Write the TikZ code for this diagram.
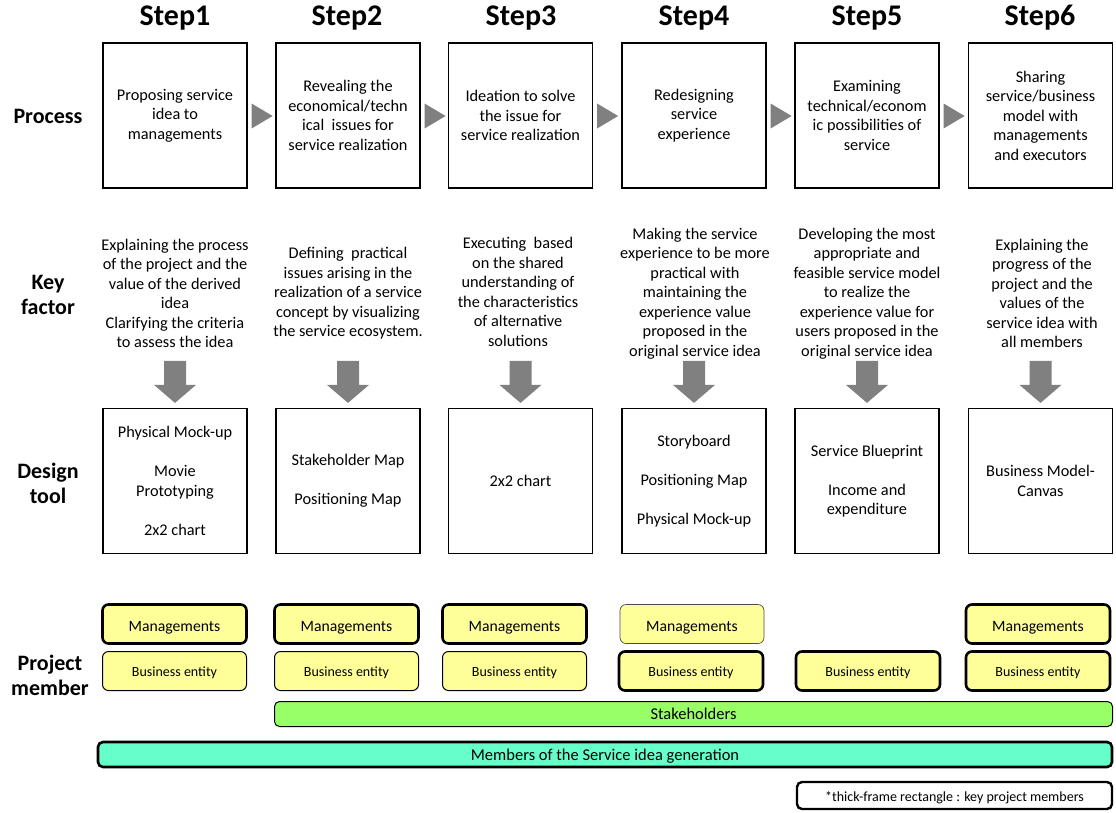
\documentclass[tikz,border=0pt]{standalone}
\usepackage{fontspec}
\setmainfont{Carlito}
\usetikzlibrary{calc}
\definecolor{agray}{HTML}{808080}
\definecolor{myyellow}{HTML}{FFFF99}
\definecolor{mygreen}{HTML}{99FF66}
\definecolor{myteal}{HTML}{66FFCC}
\begin{document}
\begin{tikzpicture}[x=1pt,y=-1pt,
  steplabel/.style={font=\fontsize{30}{34}\selectfont\bfseries, inner sep=0pt},
  rowlabel/.style={font=\fontsize{22}{25}\selectfont\bfseries, align=center, inner sep=0pt},
  stepbox/.style={draw, line width=1.2pt, minimum width=144pt, minimum height=145pt, inner sep=0pt, align=center, font=\fontsize{16.3}{19.5}\selectfont},
  keytxt/.style={font=\fontsize{16.3}{19.5}\selectfont, align=center, inner sep=0pt},
  mbox/.style={draw, rounded corners=6pt, fill=myyellow, minimum width=144pt, minimum height=39pt, inner sep=0pt, text height=15pt, text depth=0pt, font=\fontsize{15.7}{18}\selectfont},
  bbox/.style={mbox, text height=12pt, text depth=1pt, font=\fontsize{14}{16}\selectfont},
  keym/.style={line width=2.6pt},
  minor/.style={line width=1pt},
  faint/.style={line width=0.7pt, draw=black!70},
  barbox/.style={draw, rounded corners=5pt, inner sep=0pt, text height=13pt, text depth=2pt, font=\fontsize{16.5}{18}\selectfont},
  rarrow/.style={fill=agray},
  darrow/.style={fill=agray}
]
\useasboundingbox (0,0) rectangle (1116,812);

% step labels
\node[steplabel] (s1) at (175,18) {Step1};
\node[steplabel] (s2) at (347,18) {Step2};
\node[steplabel] (s3) at (521,18) {Step3};
\node[steplabel] (s4) at (694,18) {Step4};
\node[steplabel] (s5) at (867,18) {Step5};
\node[steplabel] (s6) at (1040,18) {Step6};

% row labels
\node[rowlabel] (rp) at (48,116) {Process};
\node[rowlabel] (rk) at (48,295) {Key\\factor};
\node[rowlabel] (rd) at (48,483) {Design\\tool};
\node[rowlabel] (rm) at (50,675) {Project\\member};

% process boxes
\node[stepbox] (p1) at (175,115.5) {Proposing service\\idea to\\managements};
\node[stepbox] (p2) at (348,115.5) {Revealing the\\economical/techn\\ical\ \ issues for\\service realization};
\node[stepbox] (p3) at (520.5,115.5) {Ideation to solve\\the issue for\\service realization};
\node[stepbox] (p4) at (694,115.5) {Redesigning\\service\\experience};
\node[stepbox] (p5) at (867,115.5) {Examining\\technical/econom\\ic possibilities of\\service};
\node[stepbox] (p6) at (1040.5,115.5) {Sharing\\service/business\\model with\\managements\\and executors};

% right arrows
\foreach \a/\b in {p1/p2,p2/p3,p3/p4,p4/p5,p5/p6}{
  \fill[rarrow] ($(\a.east)+(4,-12)$) -- ($(\a.east)+(4,13)$) -- ($(\a.east)+(25,0.5)$) -- cycle;
}

% key factors
\node[keytxt] (k1) at (175,293.5) {Explaining the process\\of the project and the\\value of the derived\\idea\\Clarifying the criteria\\to assess the idea};
\node[keytxt] (k2) at (348,293.5) {Defining\ \ practical\\issues arising in the\\realization of a service\\concept by visualizing\\the service ecosystem.};
\node[keytxt] (k3) at (518,292) {Executing\ \ based\\on the shared\\understanding of\\the characteristics\\of alternative\\solutions};
\node[keytxt] (k4) at (695,293.5) {Making the service\\experience to be more\\practical with\\maintaining the\\experience value\\proposed in the\\original service idea};
\node[keytxt] (k5) at (867,293.5) {Developing the most\\appropriate and\\feasible service model\\to realize the\\experience value for\\users proposed in the\\original service idea};
\node[keytxt] (k6) at (1042,293.5) {Explaining the\\progress of the\\project and the\\values of the\\service idea with\\all members};

% design tool boxes
\node[stepbox] (d1) at (175,481) {Physical Mock-up\\[19.5pt]Movie\\Prototyping\\[19.5pt]2x2 chart};
\node[stepbox] (d2) at (348,481) {Stakeholder Map\\[19.5pt]Positioning Map};
\node[stepbox] (d3) at (520.5,481) {2x2 chart};
\node[stepbox] (d4) at (694,481) {Storyboard\\[19.5pt]Positioning Map\\[19.5pt]Physical Mock-up};
\node[stepbox] (d5) at (867,481) {Service Blueprint\\[19.5pt]Income and\\expenditure};
\node[stepbox] (d6) at (1040.5,481) {Business Model-\\Canvas};

% down arrows
\foreach \k/\d in {k1/d1,k2/d2,k3/d3,k4/d4,k5/d5,k6/d6}{
  \fill[darrow] ($(\d.north)+(-11,-47)$) -- ($(\d.north)+(11,-47)$) -- ($(\d.north)+(11,-23)$) -- ($(\d.north)+(21,-23)$) -- ($(\d.north)+(0,-5)$) -- ($(\d.north)+(-21,-23)$) -- ($(\d.north)+(-11,-23)$) -- cycle;
}

% project members
\node[mbox,keym] (m1) at (174.5,624) {Managements};
\node[mbox,keym] (m2) at (346.5,624) {Managements};
\node[mbox,keym] (m3) at (514.5,624) {Managements};
\node[mbox,faint] (m4) at (692,624) {Managements};
\node[mbox,keym] (m6) at (1038,624) {Managements};

\node[bbox,minor] (b1) at (174.5,671) {Business entity};
\node[bbox,minor] (b2) at (346.5,671) {Business entity};
\node[bbox,minor] (b3) at (514.5,671) {Business entity};
\node[bbox,keym] (b4) at (691,671) {Business entity};
\node[bbox,keym] (b5) at (868,671) {Business entity};
\node[bbox,keym] (b6) at (1038,671) {Business entity};

\node[barbox, fill=mygreen, line width=1pt, minimum width=838pt, minimum height=25pt] (st) at (693.5,714) {Stakeholders};
\node[barbox, fill=myteal, line width=2.6pt, minimum width=1014pt, minimum height=25pt] (mem) at (605,754.5) {Members of the Service idea generation};
\node[barbox, fill=white, line width=2.4pt, minimum width=315pt, minimum height=27pt, font=\fontsize{14}{16}\selectfont] (note) at (954.5,795.5) {*thick-frame rectangle : key project members};
\end{tikzpicture}
\end{document}
